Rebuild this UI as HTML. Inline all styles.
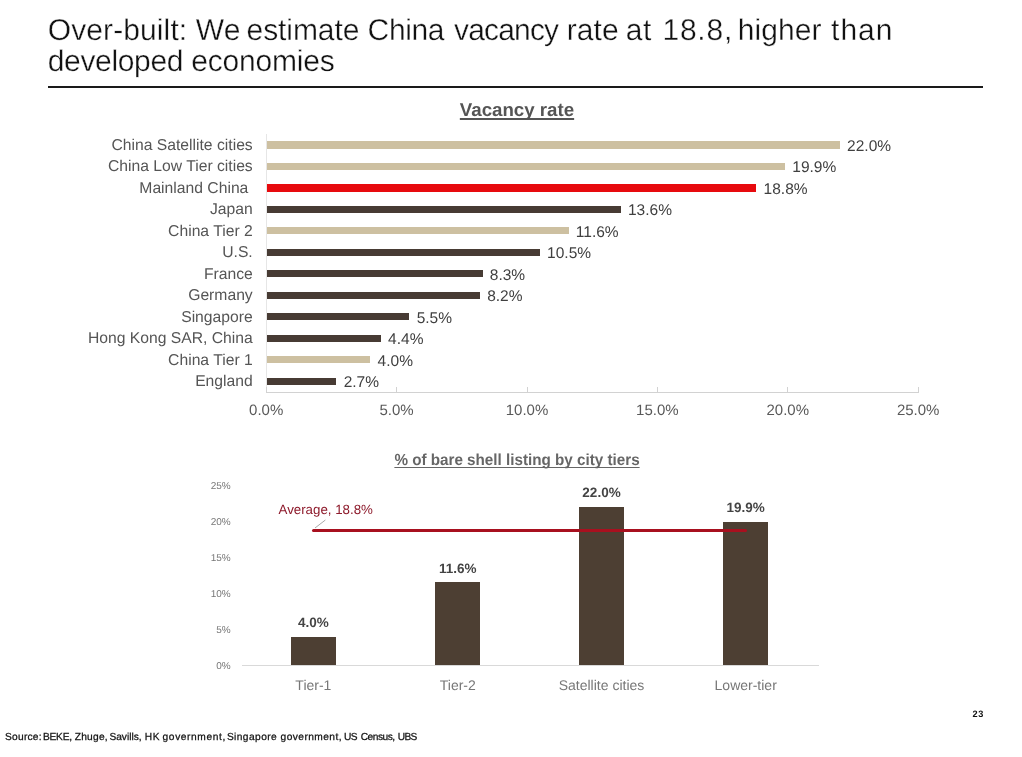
<!DOCTYPE html>
<html lang="en"><head><meta charset="utf-8"><title>Over-built</title>
<style>
html,body{margin:0;padding:0;background:#fff;}
body{width:1022px;height:757px;position:relative;overflow:hidden;font-family:"Liberation Sans",sans-serif;text-rendering:geometricPrecision;}
.abs{position:absolute;white-space:pre;}
.title{font-size:30px;line-height:30px;color:#111;-webkit-text-stroke:0.35px #fff;}
.rule{left:48px;top:86.4px;width:935px;height:2.1px;background:#1a1a1a;}
.c1t{left:417px;width:200px;text-align:center;top:99px;font-size:18.7px;line-height:22px;font-weight:bold;color:#555;text-decoration:underline;text-decoration-thickness:1.7px;text-underline-offset:2.2px;text-decoration-skip-ink:none;}
.cat{right:769.3px;font-size:15.7px;line-height:16px;color:#555;text-align:right;}
.val{font-size:15.5px;line-height:16px;color:#404040;}
.bar{height:7.4px;}
.tick{font-size:15px;line-height:16px;color:#595959;width:60px;text-align:center;top:403px;}
.src{font-size:10.2px;line-height:14px;color:#111;-webkit-text-stroke:0.25px #111;}
</style></head><body>

<div id="t1"><span class="abs title" id="ta0" style="left:47.7px;top:16px;letter-spacing:0.11px">Over-built: </span><span class="abs title" id="ta1" style="left:195.7px;top:16px;letter-spacing:0.40px">We </span><span class="abs title" id="ta2" style="left:246.6px;top:16px;letter-spacing:-0.09px">estimate </span><span class="abs title" id="ta3" style="left:367.6px;top:16px;letter-spacing:-0.38px">China </span><span class="abs title" id="ta4" style="left:454.1px;top:16px;letter-spacing:-0.85px">vacancy </span><span class="abs title" id="ta5" style="left:566.7px;top:16px;letter-spacing:0.10px">rate </span><span class="abs title" id="ta6" style="left:625.7px;top:16px;letter-spacing:0.70px">at </span><span class="abs title" id="ta7" style="left:662.4px;top:16px;letter-spacing:0.80px">18.8, </span><span class="abs title" id="ta8" style="left:737.7px;top:16px;letter-spacing:0.10px">higher </span><span class="abs title" id="ta9" style="left:831.1px;top:16px;letter-spacing:1.00px">than</span></div>
<div id="t2"><span class="abs title" id="tb0" style="left:47.7px;top:47px;letter-spacing:-0.34px">developed </span><span class="abs title" id="tb1" style="left:191.3px;top:47px;letter-spacing:-0.21px">economies</span></div>
<div class="abs rule"></div>
<div class="abs c1t" id="c1t">Vacancy rate</div>
<div class="abs" style="left:265.5px;top:134px;width:1px;height:258px;background:#e6e6e6"></div>
<div class="abs" style="left:265.5px;top:391.5px;width:653px;height:1px;background:#d2d2d2"></div>
<div class="abs" style="left:265.7px;top:387px;width:1px;height:5px;background:#d2d2d2"></div>
<div class="abs tick" id="k0" style="left:236.2px">0.0%</div>
<div class="abs" style="left:396.1px;top:387px;width:1px;height:5px;background:#d2d2d2"></div>
<div class="abs tick" id="k1" style="left:366.6px">5.0%</div>
<div class="abs" style="left:526.5px;top:387px;width:1px;height:5px;background:#d2d2d2"></div>
<div class="abs tick" id="k2" style="left:497.0px">10.0%</div>
<div class="abs" style="left:656.9px;top:387px;width:1px;height:5px;background:#d2d2d2"></div>
<div class="abs tick" id="k3" style="left:627.4px">15.0%</div>
<div class="abs" style="left:787.3px;top:387px;width:1px;height:5px;background:#d2d2d2"></div>
<div class="abs tick" id="k4" style="left:757.8px">20.0%</div>
<div class="abs" style="left:917.7px;top:387px;width:1px;height:5px;background:#d2d2d2"></div>
<div class="abs tick" id="k5" style="left:888.2px">25.0%</div>
<div class="abs cat" id="c0" style="top:138px">China Satellite cities</div>
<div class="abs bar" style="left:266.5px;top:141.2px;width:573.3px;background:#cdc0a1"></div>
<div class="abs val" id="v0" style="left:847.1px;top:139px">22.0%</div>
<div class="abs cat" id="c1" style="top:159px">China Low Tier cities</div>
<div class="abs bar" style="left:266.5px;top:162.7px;width:518.5px;background:#cdc0a1"></div>
<div class="abs val" id="v1" style="left:792.3px;top:160px">19.9%</div>
<div class="abs cat" id="c2" style="top:181px">Mainland China </div>
<div class="abs bar" style="left:266.5px;top:184.2px;width:489.8px;background:#e70a0e"></div>
<div class="abs val" id="v2" style="left:763.6px;top:182px">18.8%</div>
<div class="abs cat" id="c3" style="top:202px">Japan</div>
<div class="abs bar" style="left:266.5px;top:205.6px;width:354.2px;background:#473b34"></div>
<div class="abs val" id="v3" style="left:628.0px;top:203px">13.6%</div>
<div class="abs cat" id="c4" style="top:224px">China Tier 2</div>
<div class="abs bar" style="left:266.5px;top:227.1px;width:302.0px;background:#cdc0a1"></div>
<div class="abs val" id="v4" style="left:575.8px;top:225px">11.6%</div>
<div class="abs cat" id="c5" style="top:245px">U.S.</div>
<div class="abs bar" style="left:266.5px;top:248.6px;width:273.3px;background:#473b34"></div>
<div class="abs val" id="v5" style="left:547.1px;top:246px">10.5%</div>
<div class="abs cat" id="c6" style="top:267px">France</div>
<div class="abs bar" style="left:266.5px;top:270.1px;width:216.0px;background:#473b34"></div>
<div class="abs val" id="v6" style="left:489.8px;top:268px">8.3%</div>
<div class="abs cat" id="c7" style="top:288px">Germany</div>
<div class="abs bar" style="left:266.5px;top:291.6px;width:213.4px;background:#473b34"></div>
<div class="abs val" id="v7" style="left:487.2px;top:289px">8.2%</div>
<div class="abs cat" id="c8" style="top:310px">Singapore</div>
<div class="abs bar" style="left:266.5px;top:313.0px;width:142.9px;background:#473b34"></div>
<div class="abs val" id="v8" style="left:416.7px;top:311px">5.5%</div>
<div class="abs cat" id="c9" style="top:331px">Hong Kong SAR, China</div>
<div class="abs bar" style="left:266.5px;top:334.5px;width:114.3px;background:#473b34"></div>
<div class="abs val" id="v9" style="left:388.1px;top:332px">4.4%</div>
<div class="abs cat" id="c10" style="top:353px">China Tier 1</div>
<div class="abs bar" style="left:266.5px;top:356.0px;width:103.8px;background:#cdc0a1"></div>
<div class="abs val" id="v10" style="left:377.6px;top:354px">4.0%</div>
<div class="abs cat" id="c11" style="top:374px">England</div>
<div class="abs bar" style="left:266.5px;top:377.5px;width:69.9px;background:#473b34"></div>
<div class="abs val" id="v11" style="left:343.7px;top:375px">2.7%</div>
<div class="abs" id="c2t" style="left:367px;width:300px;text-align:center;top:450.6px;font-size:16px;line-height:20px;font-weight:bold;color:#666;text-decoration:underline;text-decoration-thickness:1px;text-underline-offset:1.6px;text-decoration-skip-ink:none;transform:scaleX(0.951)">% of bare shell listing by city tiers</div>
<div class="abs" id="y0" style="right:791.3px;top:660.8px;font-size:10px;line-height:12px;color:#777">0%</div>
<div class="abs" id="y1" style="right:791.3px;top:624.8px;font-size:10px;line-height:12px;color:#777">5%</div>
<div class="abs" id="y2" style="right:791.3px;top:588.8px;font-size:10px;line-height:12px;color:#777">10%</div>
<div class="abs" id="y3" style="right:791.3px;top:552.8px;font-size:10px;line-height:12px;color:#777">15%</div>
<div class="abs" id="y4" style="right:791.3px;top:516.8px;font-size:10px;line-height:12px;color:#777">20%</div>
<div class="abs" id="y5" style="right:791.3px;top:480.8px;font-size:10px;line-height:12px;color:#777">25%</div>
<div class="abs" style="left:290.9px;top:636.7px;width:45px;height:28.3px;background:#4d3f33"></div>
<div class="abs" id="bl0" style="left:263.4px;width:100px;text-align:center;top:616px;font-size:13.5px;line-height:14px;font-weight:bold;color:#444">4.0%</div>
<div class="abs" id="bn0" style="left:253.4px;width:120px;text-align:center;top:677.3px;font-size:14px;line-height:16px;color:#777">Tier-1</div>
<div class="abs" style="left:435.3px;top:582.0px;width:45px;height:83.0px;background:#4d3f33"></div>
<div class="abs" id="bl1" style="left:407.8px;width:100px;text-align:center;top:562px;font-size:13.5px;line-height:14px;font-weight:bold;color:#444">11.6%</div>
<div class="abs" id="bn1" style="left:397.8px;width:120px;text-align:center;top:677.3px;font-size:14px;line-height:16px;color:#777">Tier-2</div>
<div class="abs" style="left:579.0px;top:507.2px;width:45px;height:157.8px;background:#4d3f33"></div>
<div class="abs" id="bl2" style="left:551.5px;width:100px;text-align:center;top:486px;font-size:13.5px;line-height:14px;font-weight:bold;color:#444">22.0%</div>
<div class="abs" id="bn2" style="left:541.5px;width:120px;text-align:center;top:677.3px;font-size:14px;line-height:16px;color:#777">Satellite cities</div>
<div class="abs" style="left:723.2px;top:522.3px;width:45px;height:142.7px;background:#4d3f33"></div>
<div class="abs" id="bl3" style="left:695.7px;width:100px;text-align:center;top:501px;font-size:13.5px;line-height:14px;font-weight:bold;color:#444">19.9%</div>
<div class="abs" id="bn3" style="left:685.7px;width:120px;text-align:center;top:677.3px;font-size:14px;line-height:16px;color:#777">Lower-tier</div>
<div class="abs" style="left:242px;top:664.5px;width:577px;height:1px;background:#d9d9d9"></div>
<div class="abs" style="left:312px;top:528.6px;width:434.5px;height:3px;background:#a8101f;border-radius:1.5px"></div>
<div class="abs" id="avg" style="left:278.5px;top:502px;font-size:13.3px;line-height:16px;color:#8e1b2c">Average, 18.8%</div>
<svg class="abs" style="left:310px;top:515px" width="24" height="18" viewBox="0 0 24 18"><path d="M5 13 L15.4 5" stroke="#a9a9a9" stroke-width="1" fill="none"/></svg>
<div class="abs" id="pn" style="left:972.6px;top:708px;font-size:9.2px;line-height:12px;font-weight:bold;color:#111;letter-spacing:0.5px">23</div>
<div id="src"><span class="abs src" id="s0" style="left:5.0px;top:731px;letter-spacing:0.25px">Source: </span><span class="abs src" id="s1" style="left:43.1px;top:731px;letter-spacing:-0.28px">BEKE, </span><span class="abs src" id="s2" style="left:74.7px;top:731px;letter-spacing:0.26px">Zhuge, </span><span class="abs src" id="s3" style="left:109.4px;top:731px;letter-spacing:0.00px">Savills, </span><span class="abs src" id="s4" style="left:144.7px;top:731px;letter-spacing:0.60px">HK </span><span class="abs src" id="s5" style="left:162.6px;top:731px;letter-spacing:0.60px">government, </span><span class="abs src" id="s6" style="left:226.9px;top:731px;letter-spacing:0.42px">Singapore </span><span class="abs src" id="s7" style="left:280.6px;top:731px;letter-spacing:0.43px">government, </span><span class="abs src" id="s8" style="left:344.0px;top:731px;letter-spacing:-0.70px">US </span><span class="abs src" id="s9" style="left:360.7px;top:731px;letter-spacing:-0.50px">Census, </span><span class="abs src" id="s10" style="left:397.8px;top:731px;letter-spacing:-0.70px">UBS</span></div>
</body></html>
